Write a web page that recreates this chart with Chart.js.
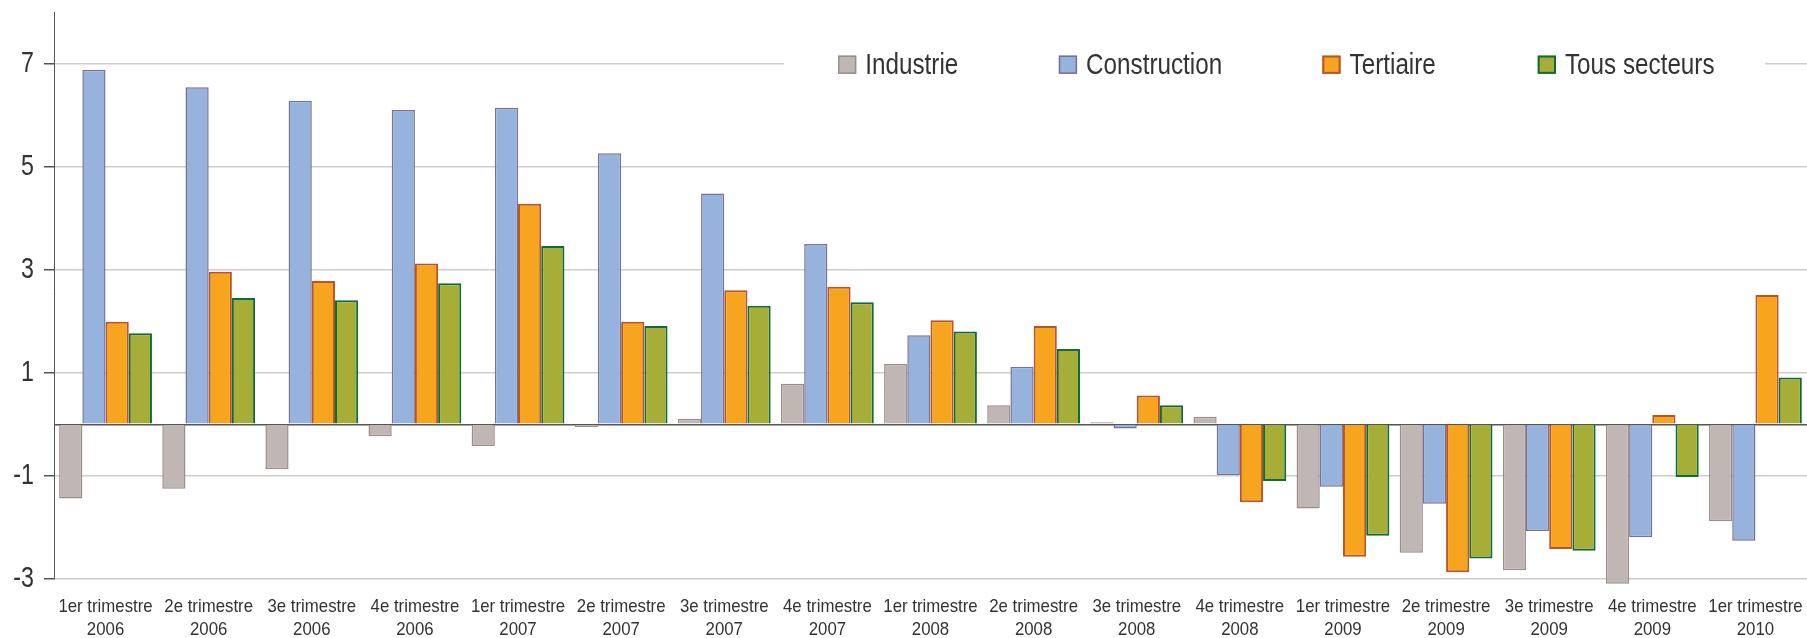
<!DOCTYPE html>
<html><head><meta charset="utf-8">
<script src="https://cdn.jsdelivr.net/npm/chart.js@4/dist/chart.umd.min.js"></script>
<style>html,body{margin:0;padding:0;background:#fff;}canvas{display:block;}</style>
</head><body>
<canvas id="c" width="1807" height="638"></canvas>
<script>
const quarters = ['1er trimestre','2e trimestre','3e trimestre','4e trimestre','1er trimestre','2e trimestre','3e trimestre','4e trimestre','1er trimestre','2e trimestre','3e trimestre','4e trimestre','1er trimestre','2e trimestre','3e trimestre','4e trimestre','1er trimestre'];
const years = ['2006','2006','2006','2006','2007','2007','2007','2007','2008','2008','2008','2008','2009','2009','2009','2009','2010'];
const seriesNames = ['Industrie','Construction','Tertiaire','Tous secteurs'];
const industrie    = [-1.44,-1.25,-0.87,-0.23,-0.42,-0.05,0.11,0.79,1.17,0.37,0.04,0.15,-1.63,-2.49,-2.83,-3.09,-1.88];
const construction = [6.88,6.54,6.28,6.10,6.14,5.26,4.48,3.50,1.73,1.12,-0.08,-0.98,-1.21,-1.54,-2.07,-2.19,-2.26];
const tertiaire    = [1.99,2.96,2.78,3.12,4.28,1.99,2.60,2.67,2.02,1.91,0.56,-1.51,-2.57,-2.87,-2.42,0.18,2.51];
const tousSecteurs = [1.77,2.45,2.41,2.74,3.46,1.91,2.30,2.37,1.80,1.46,0.37,-1.10,-2.16,-2.60,-2.45,-1.02,0.91];
const yTickValues = [-3,-1,0,1,3,5,7];

const FONT = "'Liberation Sans',Arial,Helvetica,sans-serif";
const fills   = ['#c0b6b3','#95b3dc','#f7a51e','#a7ae38'];
const borders = ['#9a8d8a','#7a7092','#b8532a','#0b6d3a'];
const bws     = [1.5,1.5,2,2];

// condensed text rendering (the source uses a horizontally condensed sans-serif)
const canvas = document.getElementById('c');
const ctx0 = canvas.getContext('2d');
function sxFor(font) {
  const m = /([\d.]+)px/.exec(font);
  const s = m ? parseFloat(m[1]) : 12;
  return s >= 24 ? 0.8 : 0.95;
}
const nativeFill = ctx0.fillText.bind(ctx0);
const nativeMeasure = ctx0.measureText.bind(ctx0);
ctx0.fillText = function (t, x, y, mw) {
  const sx = sxFor(this.font);
  this.save();
  this.translate(x, y);
  this.scale(sx, 1);
  if (mw === undefined || mw === null) nativeFill(t, 0, 0); else nativeFill(t, 0, 0, mw / sx);
  this.restore();
};
ctx0.measureText = function (t) {
  const sx = sxFor(this.font);
  const m = nativeMeasure(t);
  return {
    width: m.width * sx,
    actualBoundingBoxAscent: m.actualBoundingBoxAscent,
    actualBoundingBoxDescent: m.actualBoundingBoxDescent,
    actualBoundingBoxLeft: m.actualBoundingBoxLeft * sx,
    actualBoundingBoxRight: m.actualBoundingBoxRight * sx,
    fontBoundingBoxAscent: m.fontBoundingBoxAscent,
    fontBoundingBoxDescent: m.fontBoundingBoxDescent
  };
};

const insideLegend = {
  id: 'insideLegend',
  afterDatasetsDraw(chart, args, o) {
    const ctx = chart.ctx;
    const y = chart.scales.y.getPixelForValue(o.anchorValue);
    ctx.save();
    ctx.font = o.fontSize + 'px ' + FONT;
    ctx.fillStyle = '#fff';
    ctx.fillRect(o.bgLeft, y - 14, o.bgRight - o.bgLeft, 28);
    chart.data.datasets.forEach((ds, i) => {
      const bx = o.itemX[i];
      const lw = ds.borderWidth;
      ctx.fillStyle = ds.backgroundColor;
      ctx.fillRect(bx, y - 8, o.box, o.box);
      ctx.strokeStyle = ds.borderColor;
      ctx.lineWidth = lw;
      ctx.strokeRect(bx + lw / 2, y - 8 + lw / 2, o.box - lw, o.box - lw);
      ctx.fillStyle = '#333';
      ctx.textBaseline = 'alphabetic';
      ctx.textAlign = 'left';
      ctx.fillText(ds.label, bx + o.box + o.textGap, y + 10.3);
    });
    ctx.restore();
  }
};

const seriesData = [industrie, construction, tertiaire, tousSecteurs];
const chart = new Chart(canvas, {
  type: 'bar',
  data: {
    labels: quarters.map((q, i) => [q, years[i]]),
    datasets: seriesNames.map((n, i) => ({
      label: n, data: seriesData[i],
      backgroundColor: fills[i], borderColor: borders[i], borderWidth: bws[i],
      categoryPercentage: 0.9, barPercentage: 1.0,
      clip: false
    }))
  },
  options: {
    responsive: false,
    animation: false,
    devicePixelRatio: 1,
    layout: { padding: { left: 0, right: 0, top: 12, bottom: 0 } },
    plugins: {
      legend: { display: false },
      tooltip: { enabled: false },
      insideLegend: { anchorValue: 7, fontSize: 30.3, itemX: [838, 1058.8, 1322.3, 1537.7], box: 18.3, textGap: 9, bgLeft: 784, bgRight: 1765 }
    },
    scales: {
      x: {
        grid: { display: false, drawTicks: false },
        border: { display: false },
        afterFit: axis => { axis.height = 59; axis.paddingLeft = 0; axis.paddingRight = 0; },
        ticks: {
          color: '#333', padding: 16, maxRotation: 0, minRotation: 0, autoSkip: false,
          font: { family: FONT, size: 17.7, lineHeight: 1.34 }
        }
      },
      y: {
        min: -3, max: 8,
        afterBuildTicks: axis => { axis.ticks = yTickValues.map(v => ({ value: v })); },
        afterFit: axis => { axis.width = 54; axis.paddingTop = 0; axis.paddingBottom = 0; },
        grid: {
          color: c => (c.tick && c.tick.value === 0) ? '#555' : '#d3cbcb',
          lineWidth: 1.5,
          tickColor: c => (c.tick && c.tick.value === 0) ? 'rgba(0,0,0,0)' : '#555',
          tickLength: 10, drawTicks: true
        },
        border: { display: true, color: '#555', width: 1 },
        ticks: {
          color: '#333', padding: 10,
          font: { family: FONT, size: 29, lineHeight: 0.8 },
          callback: v => v === 0 ? '' : String(v)
        }
      }
    }
  },
  plugins: [insideLegend]
});
</script>
</body></html>
